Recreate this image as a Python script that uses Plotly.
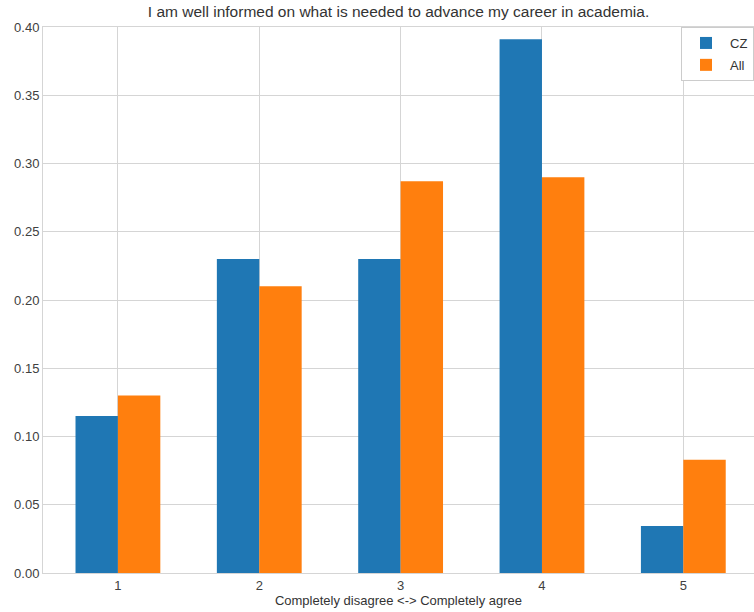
import plotly.graph_objects as go

categories = [1, 2, 3, 4, 5]
cz_values = [0.115, 0.230, 0.230, 0.391, 0.0345]
all_values = [0.130, 0.210, 0.287, 0.290, 0.083]
series_names = ["CZ", "All"]
y_ticks = [0.00, 0.05, 0.10, 0.15, 0.20, 0.25, 0.30, 0.35, 0.40]

FONT = "Liberation Sans"
TXT = "#404040"
GRID = "#d5d5d5"

fig = go.Figure()
fig.add_trace(go.Bar(x=categories, y=cz_values, name=series_names[0], legendgroup="g1",
                     width=0.3, offset=-0.3, marker=dict(color="#1f77b4", line=dict(width=0))))
fig.add_trace(go.Bar(x=categories, y=all_values, name=series_names[1], legendgroup="g2",
                     width=0.3, offset=0.0, marker=dict(color="#ff7f0e", line=dict(width=0))))

fig.update_layout(
    width=754, height=612,
    margin=dict(l=43, r=0, t=27, b=39, autoexpand=False),
    paper_bgcolor="white", plot_bgcolor="white",
    font=dict(family=FONT, size=12, color=TXT),
    title=dict(text="I am well informed on what is needed to advance my career in academia.",
               x=0.5, xref="paper", xanchor="center",
               y=1 - 12 / 612, yref="container", yanchor="middle",
               font=dict(family=FONT, size=15.5, color="#333333")),
    barmode="group",
    showlegend=True,
    legend=dict(x=(681 - 43) / 711, xanchor="left", y=1.0, yanchor="top",
                bordercolor="#cccccc", borderwidth=1, bgcolor="white",
                font=dict(family=FONT, size=13, color="#333333"),
                itemwidth=38, tracegroupgap=2),
    xaxis=dict(range=[0.47, 5.5], tickmode="array", tickvals=categories,
               ticktext=[str(c) for c in categories],
               automargin=False,
               showgrid=True, gridcolor=GRID, gridwidth=1,
               showline=True, linecolor=GRID, linewidth=1, mirror=True,
               ticks="", zeroline=False,
               tickfont=dict(family=FONT, size=13, color=TXT),
               title=dict(text="Completely disagree <-> Completely agree",
                          font=dict(family=FONT, size=13, color="#333333"), standoff=2)),
    yaxis=dict(range=[0, 0.40], tickmode="array", tickvals=y_ticks,
               tickformat=".2f", automargin=False,
               showgrid=True, gridcolor=GRID, gridwidth=1,
               showline=True, linecolor=GRID, linewidth=1, mirror=True,
               ticks="", zeroline=False,
               tickfont=dict(family=FONT, size=13, color=TXT)),
)

fig.write_html("out.html", config={"displayModeBar": False},
               post_script="document.body.style.margin='0';document.body.style.overflow='hidden';")
